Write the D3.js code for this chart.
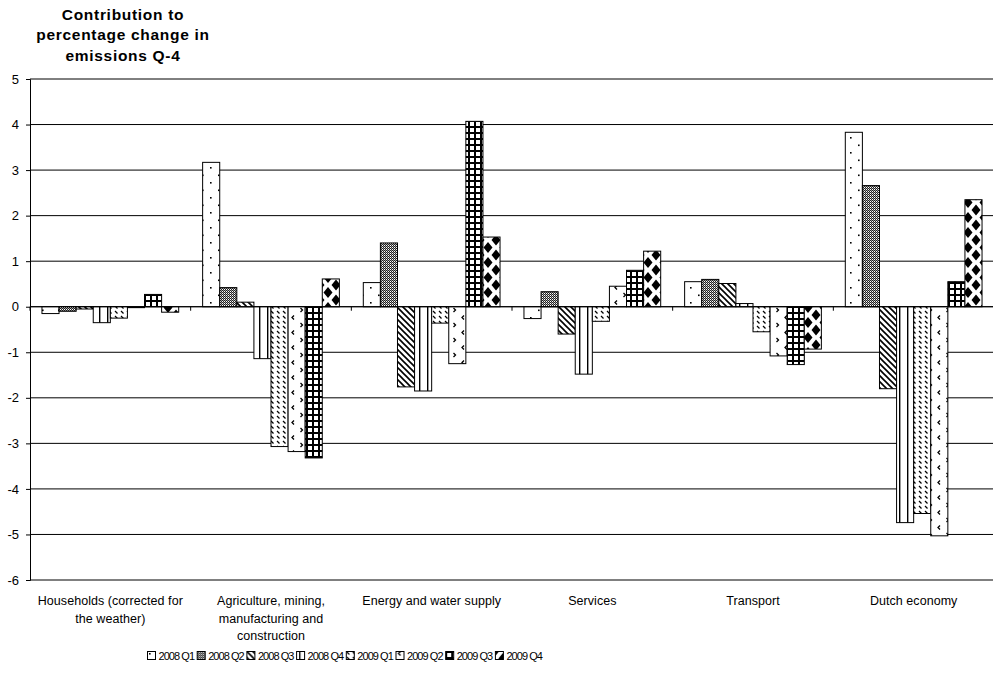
<!DOCTYPE html>
<html>
<head>
<meta charset="utf-8">
<script src="https://cdn.jsdelivr.net/npm/d3@7/dist/d3.min.js"></script>
<style>
  html, body { margin: 0; padding: 0; background: #fff; }
  svg { display: block; font-family: "Liberation Sans", Arial, sans-serif; }
</style>
</head>
<body>
<svg id="chart" width="993" height="686"></svg>
<script>
// Sectors along the category axis (line breaks as drawn under the axis)
const categories = [
  ["Households (corrected for", "the weather)"],
  ["Agriculture, mining,", "manufacturing and", "construction"],
  ["Energy and water supply"],
  ["Services"],
  ["Transport"],
  ["Dutch economy"]
];

// Quarters shown as bar series
const seriesNames = ["2008 Q1", "2008 Q2", "2008 Q3", "2008 Q4", "2009 Q1", "2009 Q2", "2009 Q3", "2009 Q4"];

// Contribution to percentage change in emissions, one array per quarter (sectors in order)
const q2008_1 = [-0.15, 3.17, 0.53, -0.26, 0.55, 3.83];
const q2008_2 = [-0.10, 0.42, 1.40, 0.33, 0.60, 2.66];
const q2008_3 = [-0.05, 0.10, -1.76, -0.60, 0.51, -1.80];
const q2008_4 = [-0.35, -1.14, -1.85, -1.48, 0.07, -4.74];
const q2009_1 = [-0.25, -3.07, -0.36, -0.32, -0.55, -4.54];
const q2009_2 = [-0.02, -3.18, -1.25, 0.45, -1.08, -5.03];
const q2009_3 = [0.27, -3.32, 4.07, 0.80, -1.27, 0.55];
const q2009_4 = [-0.12, 0.61, 1.53, 1.22, -0.93, 2.35];
const seriesValues = [q2008_1, q2008_2, q2008_3, q2008_4, q2009_1, q2009_2, q2009_3, q2009_4];

// Value axis ticks
const yTicks = [5, 4, 3, 2, 1, 0, -1, -2, -3, -4, -5, -6];

const titleLines = ["Contribution to", "percentage change in", "emissions Q-4"];

const svg = d3.select("#chart");
const plot = { left: 30, right: 994, top: 79, bottom: 580 };

const y = d3.scaleLinear().domain([-6, 5]).range([plot.bottom, plot.top]);
const x0 = d3.scaleBand().domain(d3.range(categories.length)).range([plot.left, plot.right]).padding(0);
const x1 = d3.scaleBand().domain(d3.range(seriesNames.length)).range([0, x0.bandwidth()])
  .paddingInner(0).paddingOuter(0.7);

// ---- fill patterns, one per quarter ----
const defs = svg.append("defs");
function pattern(id, w, h, draw) {
  const p = defs.append("pattern").attr("id", id)
    .attr("patternUnits", "userSpaceOnUse").attr("width", w).attr("height", h);
  p.append("rect").attr("width", w).attr("height", h).attr("fill", "#fff");
  draw(p);
}
// sparse staggered dots
pattern("p0", 16, 15, p => {
  p.append("rect").attr("x", 2).attr("y", 2).attr("width", 1.6).attr("height", 1.6).attr("fill", "#000");
  p.append("rect").attr("x", 10).attr("y", 9.5).attr("width", 1.6).attr("height", 1.6).attr("fill", "#000");
});
// fine checker (dark grey look)
pattern("p1", 2, 2, p => {
  p.append("rect").attr("x", 0).attr("y", 0).attr("width", 1).attr("height", 1).attr("fill", "#222");
  p.append("rect").attr("x", 1).attr("y", 1).attr("width", 1).attr("height", 1).attr("fill", "#222");
  p.append("rect").attr("x", 1).attr("y", 0).attr("width", 1).attr("height", 1).attr("fill", "#999");
});
// wide downward diagonal
pattern("p2", 6, 6, p => {
  p.append("path").attr("d", "M-1,-1L7,7M-1,5L1,7M5,-1L7,1").attr("stroke", "#000").attr("stroke-width", 1.6);
});
// vertical lines
pattern("p3", 8, 4, p => {
  p.append("rect").attr("x", 3).attr("y", 0).attr("width", 1.4).attr("height", 4).attr("fill", "#000");
});
// dashed downward diagonal
pattern("p4", 6, 5, p => {
  p.append("path").attr("d", "M1,1L3.5,3.5").attr("stroke", "#000").attr("stroke-width", 1.2);
});
// divot marks
pattern("p5", 17, 15, p => {
  p.append("path").attr("d", "M5,0.5L3,2.5L5,4.5").attr("fill", "none").attr("stroke", "#000").attr("stroke-width", 1.3);
  p.append("path").attr("d", "M11.5,8L13.5,10L11.5,12").attr("fill", "none").attr("stroke", "#000").attr("stroke-width", 1.3);
});
// large grid with heavy lines
pattern("p6", 6, 6, p => {
  p.append("rect").attr("width", 6).attr("height", 6).attr("fill", "#000");
  p.append("rect").attr("x", 2).attr("y", 2).attr("width", 4).attr("height", 4).attr("fill", "#fff");
});
// solid diamonds
pattern("p7", 16, 15, p => {
  const d = (cx, cy) => `M${cx},${cy - 5.5}L${cx + 4.5},${cy}L${cx},${cy + 5.5}L${cx - 4.5},${cy}Z`;
  p.append("path").attr("d", d(8, 7.5) + d(0, 0) + d(16, 0) + d(0, 15) + d(16, 15)).attr("fill", "#000");
});

// ---- title ----
svg.append("g").selectAll("text").data(titleLines).join("text")
  .attr("x", 123).attr("y", (d, i) => 19.5 + i * 20.7)
  .attr("text-anchor", "middle").attr("font-weight", "bold").attr("font-size", 15.5)
  .attr("letter-spacing", 0.7)
  .text(d => d);

// ---- gridlines ----
svg.append("g").selectAll("line").data(yTicks).join("line")
  .attr("x1", plot.left).attr("x2", plot.right)
  .attr("y1", d => y(d)).attr("y2", d => y(d))
  .attr("stroke", "#000").attr("stroke-width", 1);

// ---- value axis ----
const yAxis = svg.append("g").attr("transform", `translate(${plot.left},0)`)
  .call(d3.axisLeft(y).tickValues(yTicks).tickSize(4).tickPadding(7).tickFormat(d => String(d)));
yAxis.select(".domain").attr("stroke", "#000");
yAxis.selectAll("text").attr("font-size", 13).attr("fill", "#000")
  .attr("font-family", "'Liberation Sans', Arial, sans-serif");
yAxis.selectAll("line").attr("stroke", "#000");

// ---- bars ----
const groups = svg.append("g").selectAll("g").data(seriesValues).join("g")
  .attr("fill", (d, i) => `url(#p${i})`);
groups.selectAll("rect").data((vals, si) => vals.map((v, ci) => ({ v, ci, si }))).join("rect")
  .attr("x", d => x0(d.ci) + x1(d.si))
  .attr("width", x1.bandwidth())
  .attr("y", d => y(Math.max(0, d.v)))
  .attr("height", d => Math.abs(y(d.v) - y(0)))
  .attr("stroke", "#000").attr("stroke-width", 1);

// ---- category axis at zero ----
const xAxis = svg.append("g").attr("transform", `translate(0,${y(0)})`);
xAxis.append("line").attr("x1", plot.left).attr("x2", plot.right).attr("stroke", "#000");
xAxis.selectAll("line.tick").data(d3.range(categories.length + 1)).join("line").attr("class", "tick")
  .attr("x1", i => plot.left + i * x0.step()).attr("x2", i => plot.left + i * x0.step())
  .attr("y1", 0).attr("y2", 4).attr("stroke", "#000");

// category labels below the plot
const catLabels = svg.append("g").selectAll("text").data(categories).join("text")
  .attr("x", (d, i) => x0(i) + x0.bandwidth() / 2)
  .attr("y", 605)
  .attr("text-anchor", "middle").attr("font-size", 12.5).attr("letter-spacing", 0.05);
catLabels.selectAll("tspan").data(d => d).join("tspan")
  .attr("x", function () { return this.parentNode.getAttribute("x"); })
  .attr("dy", (d, i) => i === 0 ? 0 : 17.5)
  .text(d => d);

// ---- legend ----
const legend = svg.append("g").attr("transform", "translate(147,651)");
const item = legend.selectAll("g").data(seriesNames).join("g")
  .attr("transform", (d, i) => `translate(${i * 49.7},0)`);
item.append("rect").attr("x", 0.5).attr("y", 0.5).attr("width", 8).attr("height", 8)
  .attr("fill", (d, i) => `url(#p${i})`).attr("stroke", "#000");
item.append("text").attr("x", 11.5).attr("y", 9).attr("font-size", 11).attr("letter-spacing", -0.95)
  .text(d => d);
</script>
</body>
</html>
